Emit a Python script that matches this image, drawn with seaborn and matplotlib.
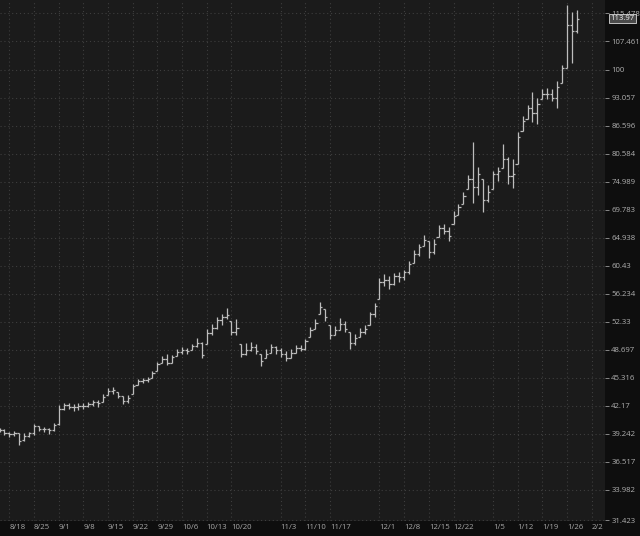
import pandas as pd
import numpy as np
import matplotlib
matplotlib.use('Agg')
import matplotlib.pyplot as plt
import seaborn as sns

# Daily OHLC (trading days from 2025-08-14 to 2026-01-28)
opens = [39.6, 39.6, 39.3, 39.2, 39.3, 38.6, 39.0, 39.3, 40.0, 39.7,
         39.7, 39.6, 40.2, 41.8, 42.2, 42.0, 42.0, 42.1, 42.1, 42.3,
         42.6, 42.6, 43.3, 43.8, 43.7, 43.2, 42.7, 43.4, 44.5, 44.9,
         45.0, 45.3, 46.1, 47.0, 47.5, 47.1, 47.9, 48.4, 48.7, 48.6,
         49.1, 49.5, 49.4, 50.8, 51.5, 52.5, 53.0, 52.4, 51.0, 49.4,
         48.2, 48.7, 49.0, 48.2, 47.6, 48.3, 49.0, 48.6, 48.1, 47.7,
         48.3, 48.9, 48.8, 50.3, 51.3, 53.3, 54.0, 51.9, 50.6, 51.2,
         52.0, 51.0, 49.5, 50.3, 51.0, 51.9, 53.3, 55.5, 58.0, 58.3,
         57.6, 58.8, 58.7, 59.5, 60.9, 62.2, 63.6, 64.3, 62.6, 65.0,
         66.5, 66.0, 67.2, 68.8, 70.8, 73.6, 75.5, 74.0, 75.4, 71.5,
         73.5, 76.5, 77.7, 79.5, 76.0, 78.4, 85.4, 88.1, 90.5, 89.5,
         92.6, 94.0, 93.8, 93.0, 96.6, 100.5, 112.0, 110.5]
highs = [39.8, 39.7, 39.4, 39.5, 39.3, 39.35, 39.45, 40.2, 40.0, 39.9,
         39.8, 40.3, 42.2, 42.5, 42.4, 42.3, 42.5, 42.4, 42.6, 42.8,
         42.8, 43.4, 44.1, 44.2, 43.7, 43.2, 43.3, 44.6, 45.2, 45.3,
         45.4, 46.1, 47.2, 47.9, 48.2, 48.0, 48.8, 49.0, 48.9, 49.4,
         50.2, 49.7, 51.3, 52.0, 52.9, 53.4, 54.2, 52.4, 52.7, 49.4,
         49.5, 49.7, 49.4, 48.2, 48.8, 49.4, 49.2, 48.9, 48.5, 48.8,
         49.3, 49.3, 50.1, 51.6, 52.7, 55.0, 54.0, 51.9, 51.8, 52.8,
         52.4, 51.0, 50.7, 51.5, 51.9, 53.7, 54.9, 58.5, 59.2, 58.8,
         59.3, 59.5, 59.8, 61.1, 62.9, 63.9, 65.4, 64.3, 64.7, 67.0,
         67.2, 66.7, 69.5, 70.8, 73.0, 76.3, 83.0, 77.8, 75.4, 74.4,
         77.1, 77.9, 82.5, 79.8, 79.4, 85.2, 88.7, 91.4, 94.3, 93.0,
         95.2, 95.4, 95.2, 97.1, 101.2, 118.0, 116.0, 116.5]
lows = [39.4, 39.1, 38.95, 39.05, 38.1, 38.5, 38.95, 39.1, 39.5, 39.4,
        39.25, 39.5, 40.1, 41.7, 41.8, 41.6, 41.7, 41.8, 42.0, 42.1,
        42.0, 42.6, 43.3, 43.4, 43.0, 42.3, 42.4, 43.4, 44.5, 44.7,
        44.8, 45.3, 46.1, 47.0, 46.8, 47.0, 47.9, 48.2, 48.1, 48.6,
        49.0, 47.6, 49.4, 50.6, 51.3, 51.9, 52.7, 50.5, 50.6, 47.8,
        48.0, 48.5, 48.2, 46.7, 47.6, 48.3, 48.2, 47.8, 47.3, 47.7,
        48.3, 48.5, 48.6, 50.3, 51.3, 53.3, 52.4, 50.1, 50.5, 51.2,
        51.0, 48.8, 49.3, 50.3, 50.7, 51.9, 53.0, 55.5, 57.3, 56.9,
        57.5, 58.0, 58.3, 59.2, 60.9, 62.0, 63.6, 61.6, 62.2, 65.0,
        65.5, 64.4, 67.2, 68.8, 70.8, 73.5, 70.9, 72.5, 69.3, 71.1,
        73.5, 75.0, 77.7, 74.5, 73.7, 78.4, 85.4, 88.1, 87.4, 86.9,
        92.6, 92.6, 92.2, 90.5, 96.6, 100.5, 101.8, 109.8]
closes = [39.6, 39.3, 39.2, 39.3, 38.5, 39.0, 39.3, 40.0, 39.7, 39.7,
          39.6, 40.1, 41.8, 42.2, 42.0, 42.0, 42.1, 42.1, 42.3, 42.6,
          42.4, 43.1, 43.8, 43.9, 43.2, 42.7, 43.0, 44.4, 44.9, 45.0,
          45.1, 45.9, 46.9, 47.5, 47.1, 47.8, 48.4, 48.7, 48.5, 49.1,
          49.5, 48.0, 50.8, 51.5, 52.5, 53.0, 53.2, 51.0, 51.5, 48.2,
          48.7, 49.0, 48.5, 47.3, 48.1, 49.0, 48.6, 48.1, 47.6, 48.3,
          48.9, 48.8, 49.8, 51.2, 52.2, 54.3, 52.9, 50.6, 51.2, 52.0,
          51.4, 49.5, 50.2, 51.0, 51.4, 53.3, 54.5, 58.0, 58.3, 57.6,
          58.8, 58.7, 59.5, 60.6, 62.2, 63.3, 64.6, 62.6, 63.8, 66.5,
          66.0, 65.2, 68.7, 70.2, 72.3, 75.5, 74.0, 76.5, 71.5, 73.0,
          76.5, 77.0, 79.5, 76.0, 76.5, 84.0, 87.5, 90.5, 89.5, 91.5,
          94.0, 93.8, 93.0, 95.5, 100.5, 112.0, 110.5, 113.97]

price_ticks = [31.423, 33.982, 36.517, 39.242, 42.17, 45.316, 48.697, 52.33,
               56.234, 60.43, 64.938, 69.783, 74.989, 80.584, 86.596, 93.057,
               100, 107.461, 115.478]
price_labels = ['31.423', '33.982', '36.517', '39.242', '42.17', '45.316',
                '48.697', '52.33', '56.234', '60.43', '64.938', '69.783',
                '74.989', '80.584', '86.596', '93.057', '100', '107.461',
                '115.478']
date_labels = ['8/18', '8/25', '9/1', '9/8', '9/15', '9/22', '9/29', '10/6',
               '10/13', '10/20', '11/3', '11/10', '11/17', '12/1', '12/8',
               '12/15', '12/22', '1/5', '1/12', '1/19', '1/26', '2/2']
last_price = 113.97

# trading calendar (x axis is bar index, no weekend gaps)
cal = pd.bdate_range('2025-08-14', '2026-02-06')
cal = cal[~cal.isin(pd.to_datetime(['2025-12-25', '2026-01-01']))]
tick_dates = pd.to_datetime(['2025/' + d if int(d.split('/')[0]) > 6 else '2026/' + d
                             for d in date_labels], format='%Y/%m/%d')
tick_pos = [cal.get_loc(d) for d in tick_dates]

df = pd.DataFrame({'date': cal[:len(closes)], 'open': opens, 'high': highs,
                   'low': lows, 'close': closes})
df['i'] = np.arange(len(df))

sns.set_theme(style='dark', rc={'axes.facecolor': '#1b1b1b',
                                'figure.facecolor': '#0e0e0e'})
plt.rcParams['font.family'] = ['Open Sans', 'DejaVu Sans']

fig = plt.figure(figsize=(6.4, 5.36), dpi=100)
ax = fig.add_axes([0, 15 / 536, 605 / 640, 521 / 536])

bar_col = '#bdbdbd'
ax.vlines(df['i'], df['low'], df['high'], color=bar_col, linewidth=0.9)
ax.hlines(df['open'], df['i'] - 0.45, df['i'], color=bar_col, linewidth=0.9)
ax.hlines(df['close'], df['i'], df['i'] + 0.45, color=bar_col, linewidth=0.9)

ax.set_yscale('log')
ax.set_ylim(31.35, 119.55)
ax.set_xlim(0.1, 122.7)
ax.yaxis.tick_right()
ax.set_yticks(price_ticks)
ax.set_yticklabels(price_labels)
ax.yaxis.set_minor_locator(matplotlib.ticker.NullLocator())
ax.set_xticks(tick_pos)
ax.set_xticklabels(date_labels, ha='left')

ax.tick_params(axis='y', colors='#9a9a9a', labelcolor='#b0b0b0', labelsize=5.6,
               length=3, width=0.6, pad=1.5, direction='out', right=True)
ax.tick_params(axis='x', colors='#9a9a9a', labelcolor='#a8a8a8', labelsize=5.6,
               length=0, pad=2.5)
ax.grid(True, color='#3e3e3e', linestyle=(0, (1, 2.5)), linewidth=0.8)
for s in ax.spines.values():
    s.set_visible(False)
ax.set_xlabel('')
ax.set_ylabel('')

# last price marker on the price scale (covers the top tick label, as in the original)
ax.annotate(f'{last_price:.2f}', xy=(1.0, last_price), xycoords=('axes fraction', 'data'),
            xytext=(4, 0), textcoords='offset points', va='center', ha='left',
            fontsize=5.6, color='#f0f0f0', zorder=10,
            bbox=dict(boxstyle='square,pad=0.15', facecolor='#4a4a4a',
                      edgecolor='#d8d8d8', linewidth=0.6))

fig.savefig('out.png', dpi=100, facecolor=fig.get_facecolor())
